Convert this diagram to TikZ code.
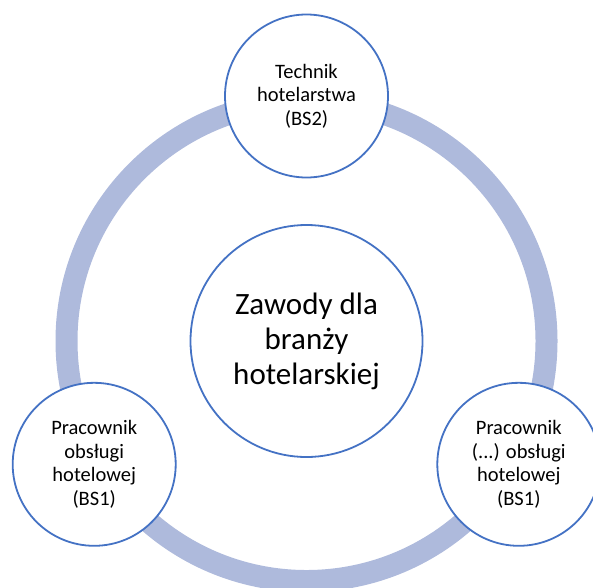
\documentclass[tikz,border=0pt]{standalone}
\usepackage{fontspec}
\setmainfont{Carlito}
\definecolor{ringcol}{RGB}{174,186,220}
\definecolor{edgecol}{RGB}{68,114,196}
\begin{document}
\begin{tikzpicture}[x=1pt,y=-1pt,
  smallnode/.style={circle,draw=edgecol,line width=1.8pt,fill=white,minimum size=163pt,inner sep=0pt,align=center,font=\fontsize{20.5}{23.5}\selectfont},
  bignode/.style={circle,draw=edgecol,line width=1.8pt,fill=white,minimum size=232pt,inner sep=0pt,align=center,font=\fontsize{31}{35}\selectfont},
  ring/.style={draw=ringcol,line width=22pt}]
\useasboundingbox (0,0) rectangle (593,587);
\coordinate (c) at (306.5,341);
\draw[ring] (c) circle[radius=240];
\node[bignode] (center) at (c) {Zawody dla\\branży\\hotelarskiej};
\node[smallnode] (top) at (306.5,96) {Technik\\hotelarstwa\\(BS2)};
\node[smallnode] (left) at (94.2,464.3) {Pracownik\\obsługi\\hotelowej\\(BS1)};
\node[smallnode] (right) at (518.8,464.3) {Pracownik\\(...) obsługi\\hotelowej\\(BS1)};
\end{tikzpicture}
\end{document}
